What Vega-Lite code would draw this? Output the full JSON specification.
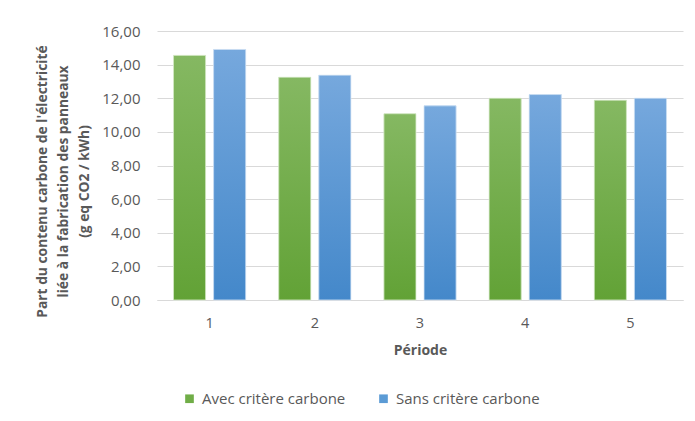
{
  "$schema": "https://vega.github.io/schema/vega-lite/v6.json",
  "autosize": {"type": "none"},
  "width": 526,
  "height": 269,
  "padding": {"left": 157, "top": 31, "right": 12, "bottom": 121},
  "background": "white",
  "config": {
    "view": {"stroke": null},
    "font": "Open Sans",
    "locale": {"number": {"decimal": ",", "thousands": " ", "grouping": [3], "currency": ["", " €"]}},
    "axis": {"labelColor": "#595959", "titleColor": "#595959", "labelFont": "Open Sans", "titleFont": "Open Sans", "labelFontSize": 15, "titleFontSize": 13}
  },
  "data": {
    "values": [
      {"periode": "1", "serie": "Avec critère carbone", "valeur": 14.55},
      {"periode": "1", "serie": "Sans critère carbone", "valeur": 14.9},
      {"periode": "2", "serie": "Avec critère carbone", "valeur": 13.25},
      {"periode": "2", "serie": "Sans critère carbone", "valeur": 13.37},
      {"periode": "3", "serie": "Avec critère carbone", "valeur": 11.08},
      {"periode": "3", "serie": "Sans critère carbone", "valeur": 11.55},
      {"periode": "4", "serie": "Avec critère carbone", "valeur": 12.0},
      {"periode": "4", "serie": "Sans critère carbone", "valeur": 12.22},
      {"periode": "5", "serie": "Avec critère carbone", "valeur": 11.88},
      {"periode": "5", "serie": "Sans critère carbone", "valeur": 12.0}
    ]
  },
  "encoding": {
    "x": {
      "field": "periode", "type": "nominal",
      "scale": {"paddingInner": 0.314, "paddingOuter": 0.157},
      "axis": {"title": "Période", "titleFontWeight": "bold", "titleFontSize": 14, "labelAngle": 0, "ticks": false, "domainColor": "#d9d9d9", "domainWidth": 1, "labelPadding": 16, "titlePadding": 14, "labelFontSize": 14.5}
    },
    "xOffset": {"field": "serie", "type": "nominal", "scale": {"paddingInner": 0.2, "paddingOuter": 0}},
    "y": {
      "field": "valeur", "type": "quantitative",
      "scale": {"domain": [0, 16], "nice": false},
      "axis": {
        "title": ["Part du contenu carbone de l'électricité", "liée à la fabrication des panneaux", "(g eq CO2 / kWh)"],
        "titleFontWeight": "bold", "titleFontSize": 13.8, "titleLineHeight": 21, "titleY": 150, "titleX": -115, "titleAlign": "center", "titleBaseline": "middle",
        "format": ".2f", "values": [0, 2, 4, 6, 8, 10, 12, 14, 16], "labelOverlap": false,
        "ticks": false, "domain": false, "gridColor": "#d9d9d9", "gridWidth": 1, "labelPadding": 17
      }
    }
  },
  "layer": [
    {
      "mark": {"type": "bar"},
      "encoding": {
        "color": {
          "field": "serie", "type": "nominal",
          "scale": {"domain": ["Avec critère carbone", "Sans critère carbone"], "range": ["#70ad47", "#5b9bd5"]},
          "legend": {"title": null, "orient": "none", "legendX": 25, "legendY": 360, "direction": "horizontal", "symbolType": "square", "symbolSize": 75, "labelFontSize": 15, "labelColor": "#595959", "labelFont": "Open Sans", "labelOffset": 5, "columnPadding": 30, "symbolStrokeWidth": 0}
        }
      }
    },
    {
      "transform": [{"filter": "datum.serie === 'Avec critère carbone'"}],
      "mark": {"type": "bar", "stroke": "#ddeed2", "strokeWidth": 0.8, "fill": {"gradient": "linear", "x1": 0, "y1": 0, "x2": 0, "y2": 1, "stops": [{"offset": 0, "color": "#85b862"}, {"offset": 1, "color": "#62a236"}]}},
      "encoding": {}
    },
    {
      "transform": [{"filter": "datum.serie === 'Sans critère carbone'"}],
      "mark": {"type": "bar", "stroke": "#d5e5f5", "strokeWidth": 0.8, "fill": {"gradient": "linear", "x1": 0, "y1": 0, "x2": 0, "y2": 1, "stops": [{"offset": 0, "color": "#76a8dd"}, {"offset": 1, "color": "#4488ca"}]}},
      "encoding": {}
    }
  ]
}
